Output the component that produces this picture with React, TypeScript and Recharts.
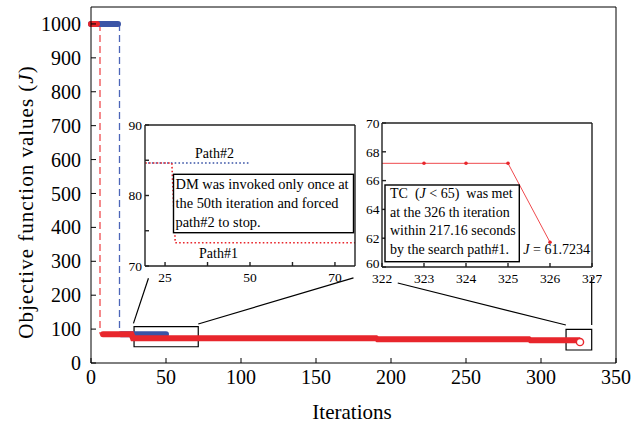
import React from 'react';
import {
  ComposedChart,
  LineChart,
  Line,
  XAxis,
  YAxis,
  ReferenceArea,
  ReferenceLine,
  CartesianGrid,
} from 'recharts';

const FONT = "'Liberation Serif', 'Times New Roman', serif";
const RED = '#E8262C';
const RED_LIGHT = '#EF4A4E';
const BLUE = '#3A54A6';
const BLUE_LIGHT = '#4C66B8';

// Search path #1 (red): iteration breakpoints and objective values J
const redIter = [0, 4, 8, 27, 28, 190, 191, 292, 293, 325, 326];
const redJ = [1000, 1000, 84.6, 84.6, 73.3, 73.3, 70.0, 70.0, 67.2, 67.2, 61.72];
const redDropIter = 6;

// Search path #2 (blue)
const blueIter = [0, 18, 20, 50];
const blueJ = [1000, 1000, 84.6, 84.6];
const blueDropIter = 19;

// Inset 2: last iterations of path #1
const tcIter = [322, 323, 324, 325, 326];
const tcJ = [67.2, 67.2, 67.2, 67.2, 61.72];

// Ticks
const mainXTicks = [0, 50, 100, 150, 200, 250, 300, 350];
const mainYTicks = [0, 100, 200, 300, 400, 500, 600, 700, 800, 900, 1000];
const in1XTicks = [25, 37.5, 50, 62.5, 75];
const in1XLabels = ['25', '', '50', '', '70'];
const in1YTicks = [70, 75, 80, 85, 90];
const in1YLabels = ['70', '', '80', '', '90'];
const in2XTicks = [322, 323, 324, 325, 326, 327];
const in2YTicks = [60, 62, 64, 66, 68, 70];

// Zoom boxes drawn on the main plot (data coordinates)
const zoomBox1 = { x1: 28.7, x2: 71.5, y1: 48, y2: 107 };
const zoomBox2 = { x1: 316.7, x2: 333.8, y1: 38.3, y2: 99.4 };
// Connector lines (data coordinates of main plot)
const connectors = [
  [{ x: 28.3, y: 117 }, { x: 38.3, y: 250 }],
  [{ x: 71.5, y: 115 }, { x: 175, y: 251 }],
  [{ x: 204.5, y: 236 }, { x: 316.6, y: 112 }],
  [{ x: 333.8, y: 254 }, { x: 333.8, y: 112 }],
];

type Row = { x: number; y: number | null };
const withBreaks = (xs: number[], ys: number[]): Row[] => {
  const rows: Row[] = [];
  xs.forEach((x, i) => {
    if (i > 0 && ys[i - 1] - ys[i] > 500) rows.push({ x: (xs[i - 1] + x) / 2, y: null });
    rows.push({ x, y: ys[i] });
  });
  return rows;
};
const redRows = withBreaks(redIter, redJ);
const blueRows = withBreaks(blueIter, blueJ);
const redDrop: Row[] = [
  { x: redDropIter, y: redJ[0] },
  { x: redDropIter, y: redJ[2] },
];
const blueDrop: Row[] = [
  { x: blueDropIter, y: blueJ[0] },
  { x: blueDropIter, y: blueJ[2] },
];
const tcRows: Row[] = tcIter.map((x, i) => ({ x, y: tcJ[i] }));

const lastRed = redRows.length - 1;

const makeTick =
  (size: number, dy: (v: number) => string | number, fmt?: (v: number) => string) =>
  (p: any) => (
    <text
      key={`t${p.index}`}
      x={p.x}
      y={p.y}
      dy={dy(p.payload.value)}
      textAnchor={p.textAnchor}
      fontFamily={FONT}
      fontSize={size}
      fill="#000"
    >
      {fmt ? fmt(p.payload.value) : String(p.payload.value)}
    </text>
  );

const mainXTick = makeTick(20, () => '0.71em');
const mainYTick = makeTick(20, () => '0.355em');
const in1XTick = makeTick(13.5, () => '0.71em', (v) => in1XLabels[in1XTicks.indexOf(v)] ?? '');
const in1YTick = makeTick(13.5, () => '0.355em', (v) => in1YLabels[in1YTicks.indexOf(v)] ?? '');
const in2XTick = makeTick(13.5, () => '0.71em');
const in2YTick = makeTick(13.5, (v) => (v === in2YTicks[0] ? 1.3 : '0.355em'));

function Inset1() {
  return (
    <div style={{ position: 'absolute', left: 115, top: 115 }}>
      <LineChart width={250} height={175} margin={{ top: 0, right: 0, bottom: 0, left: 0 }}>
        <CartesianGrid fill="#fff" stroke="none" horizontal={false} vertical={false} />
        <XAxis
          type="number"
          dataKey="x"
          domain={[19.1, 80.9]}
          allowDataOverflow
          ticks={in1XTicks}
          height={24}
          tickSize={-4}
          tickMargin={10}
          stroke="#222"
          strokeWidth={1.4}
          tick={in1XTick}
          interval={0}
        />
        <XAxis
          xAxisId="t"
          orientation="top"
          type="number"
          domain={[19.1, 80.9]}
          allowDataOverflow
          ticks={in1XTicks}
          height={10}
          tickSize={-4}
          tick={false}
          stroke="#222"
          strokeWidth={1.4}
        />
        <YAxis
          type="number"
          domain={[70, 90]}
          allowDataOverflow
          ticks={in1YTicks}
          width={30}
          tickSize={-4}
          tickMargin={7}
          stroke="#222"
          strokeWidth={1.4}
          tick={in1YTick}
          interval={0}
        />
        <YAxis
          yAxisId="r"
          orientation="right"
          type="number"
          domain={[70, 90]}
          allowDataOverflow
          ticks={in1YTicks}
          width={10}
          tickSize={-4}
          tick={false}
          stroke="#222"
          strokeWidth={1.4}
        />
        <Line
          data={blueRows}
          dataKey="y"
          stroke={BLUE}
          strokeWidth={1.6}
          strokeDasharray="1.6 2.2"
          dot={false}
          isAnimationActive={false}
        />
        <Line
          data={redRows}
          dataKey="y"
          stroke={RED}
          strokeWidth={1.6}
          strokeDasharray="1.6 2.2"
          dot={false}
          isAnimationActive={false}
        />
      </LineChart>
    </div>
  );
}

function Inset2() {
  return (
    <div style={{ position: 'absolute', left: 352, top: 113 }}>
      <LineChart width={250} height={178} margin={{ top: 0, right: 0, bottom: 0, left: 0 }}>
        <CartesianGrid fill="#fff" stroke="none" horizontal={false} vertical={false} />
        <XAxis
          type="number"
          dataKey="x"
          domain={[322, 327]}
          allowDataOverflow
          ticks={in2XTicks}
          height={24}
          tickSize={-4}
          tickMargin={10.5}
          stroke="#222"
          strokeWidth={1.4}
          tick={in2XTick}
          interval={0}
        />
        <XAxis
          xAxisId="t"
          orientation="top"
          type="number"
          domain={[322, 327]}
          ticks={in2XTicks}
          height={10}
          tickSize={-4}
          tick={false}
          stroke="#222"
          strokeWidth={1.4}
        />
        <YAxis
          type="number"
          domain={[60, 70]}
          allowDataOverflow
          ticks={in2YTicks}
          width={30}
          tickSize={-4}
          tickMargin={6.5}
          stroke="#222"
          strokeWidth={1.4}
          tick={in2YTick}
          interval={0}
        />
        <YAxis
          yAxisId="r"
          orientation="right"
          type="number"
          domain={[60, 70]}
          ticks={in2YTicks}
          width={10}
          tickSize={-4}
          tick={false}
          stroke="#222"
          strokeWidth={1.4}
        />
        <Line
          data={tcRows}
          dataKey="y"
          stroke={RED_LIGHT}
          strokeWidth={1}
          dot={(p: any) =>
            p.index === 0 ? (
              <g key={`d${p.index}`} />
            ) : (
              <circle key={`d${p.index}`} cx={p.cx} cy={p.cy} r={1.8} fill={RED} stroke="none" />
            )
          }
          isAnimationActive={false}
        />
      </LineChart>
    </div>
  );
}

export default function App() {
  return (
    <div
      style={{
        position: 'absolute',
        left: 0,
        top: 0,
        width: 634,
        height: 425,
        background: '#fff',
        fontFamily: FONT,
      }}
    >
      <ComposedChart width={634} height={425} margin={{ top: 0, right: 0, bottom: 0, left: 0 }}>
        <XAxis
          type="number"
          dataKey="x"
          domain={[0, 350]}
          ticks={mainXTicks}
          height={62}
          tickSize={-5}
          tickMargin={12}
          stroke="#000"
          tick={mainXTick}
          interval={0}
        />
        <XAxis
          xAxisId="t"
          orientation="top"
          type="number"
          domain={[0, 350]}
          ticks={mainXTicks}
          height={7}
          tickSize={-5}
          tick={false}
          stroke="#000"
        />
        <YAxis
          type="number"
          domain={[0, 1050]}
          ticks={mainYTicks}
          width={91}
          tickSize={-5}
          tickMargin={15}
          stroke="#000"
          tick={mainYTick}
          interval={0}
        />
        <YAxis
          yAxisId="r"
          orientation="right"
          type="number"
          domain={[0, 1050]}
          ticks={mainYTicks}
          width={18}
          tickSize={-5}
          tick={false}
          stroke="#000"
        />
        <Line
          data={blueDrop}
          dataKey="y"
          stroke={BLUE_LIGHT}
          strokeWidth={1.3}
          strokeDasharray="7 4"
          dot={false}
          isAnimationActive={false}
        />
        <Line
          data={redDrop}
          dataKey="y"
          stroke={RED_LIGHT}
          strokeWidth={1.3}
          strokeDasharray="7 4"
          dot={false}
          isAnimationActive={false}
        />
        <Line
          data={blueRows}
          dataKey="y"
          stroke={BLUE}
          strokeWidth={6}
          strokeLinecap="round"
          dot={false}
          isAnimationActive={false}
        />
        <Line
          data={redRows}
          dataKey="y"
          stroke={RED}
          strokeWidth={6}
          strokeLinecap="round"
          dot={(p: any) =>
            p.index === lastRed ? (
              <circle key="end" cx={p.cx} cy={p.cy} r={3.6} fill="#fff" stroke={RED} strokeWidth={1.4} />
            ) : (
              <g key={`d${p.index}`} />
            )
          }
          isAnimationActive={false}
        />
        <ReferenceArea
          x1={zoomBox1.x1}
          x2={zoomBox1.x2}
          y1={zoomBox1.y1}
          y2={zoomBox1.y2}
          fill="none"
          stroke="#000"
          strokeWidth={1.2}
        />
        <ReferenceArea
          x1={zoomBox2.x1}
          x2={zoomBox2.x2}
          y1={zoomBox2.y1}
          y2={zoomBox2.y2}
          fill="none"
          stroke="#000"
          strokeWidth={1.2}
        />
        {connectors.map((seg, i) => (
          <ReferenceLine key={i} segment={seg} stroke="#000" strokeWidth={1.2} />
        ))}
      </ComposedChart>

      <Inset1 />
      <Inset2 />

      <svg
        width={634}
        height={425}
        style={{ position: 'absolute', left: 0, top: 0, pointerEvents: 'none' }}
        fontFamily={FONT}
      >
        <text x={352} y={419} fontSize={21} textAnchor="middle" fill="#000">
          Iterations
        </text>
        <text
          x={33}
          y={202}
          fontSize={21}
          textAnchor="middle"
          fill="#000"
          letterSpacing={1}
          transform="rotate(-90 33 202)"
        >
          Objective function values (<tspan fontStyle="italic">J</tspan>)
        </text>

        <text x={195} y={157.5} fontSize={14} fill="#000">
          Path#2
        </text>
        <text x={199} y={257.5} fontSize={14} fill="#000">
          Path#1
        </text>
        <rect x={173.5} y={174.3} width={180} height={58.4} fill="#fff" stroke="#000" strokeWidth={1.4} />
        <text fontSize={14.4} fill="#000">
          <tspan x={175.5} y={188.5}>DM was invoked only once at</tspan>
          <tspan x={175.5} y={207.5}>the 50th iteration and forced</tspan>
          <tspan x={175.5} y={226.5}>path#2 to stop.</tspan>
        </text>

        <rect x={385} y={185} width={134.3} height={76.7} fill="#fff" stroke="#000" strokeWidth={1.4} />
        <text fontSize={14} fill="#000" style={{ whiteSpace: 'pre' }}>
          <tspan x={390} y={198.3}>
            {'TC  ('}
          </tspan>
          <tspan fontStyle="italic">J</tspan>
          <tspan>{' < 65)  was met'}</tspan>
          <tspan x={390} y={216.7}>at the 326 th iteration</tspan>
          <tspan x={390} y={235}>within 217.16 seconds</tspan>
          <tspan x={390} y={254}>by the search path#1.</tspan>
        </text>
        <text x={523.3} y={254} fontSize={14} fill="#000">
          <tspan fontStyle="italic">J</tspan> = 61.7234
        </text>
      </svg>
    </div>
  );
}
